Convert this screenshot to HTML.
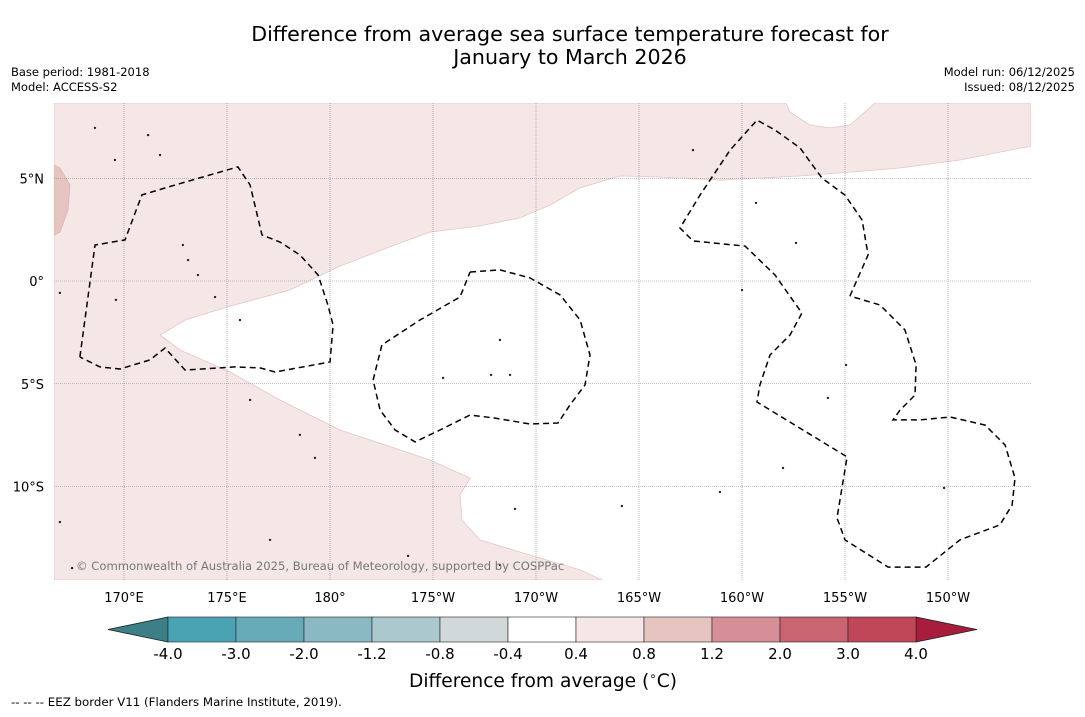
<!DOCTYPE html>
<html><head><meta charset="utf-8">
<style>
body{margin:0;background:#fff;width:1085px;height:713px;overflow:hidden;font-family:"DejaVu Sans","Liberation Sans",sans-serif}
svg text{font-family:"DejaVu Sans","Liberation Sans",sans-serif}
</style></head>
<body>
<svg id="c" width="1085" height="713" viewBox="0 0 1085 713" xmlns="http://www.w3.org/2000/svg">
<text x="570" y="41" font-size="20.6" text-anchor="middle" fill="#000">Difference from average sea surface temperature forecast for</text>
<text x="570" y="64" font-size="20.6" text-anchor="middle" fill="#000">January to March 2026</text>
<text x="11" y="76" font-size="11.5">Base period: 1981-2018</text>
<text x="11" y="91" font-size="11.5">Model: ACCESS-S2</text>
<text x="1075" y="76" font-size="11.5" text-anchor="end">Model run: 06/12/2025</text>
<text x="1075" y="91" font-size="11.5" text-anchor="end">Issued: 08/12/2025</text>
<defs><clipPath id="mc"><rect x="54" y="103" width="977" height="477"/></clipPath></defs>
<g id="map" clip-path="url(#mc)"></g>
<g id="axes"></g>
<g id="cbar"></g>
<text x="543" y="687" font-size="18.6" text-anchor="middle">Difference from average (<tspan baseline-shift="super" font-size="12">∘</tspan>C)</text>
<text x="11" y="706" font-size="11.8">--  --  -- EEZ border V11 (Flanders Marine Institute, 2019).</text>
</svg>
<script>
// ---- data ----
const lonTicks=[170,175,180,185,190,195,200,205,210];
const lonTickLabels=["170°E","175°E","180°","175°W","170°W","165°W","160°W","155°W","150°W"];
const latTicks=[5,0,-5,-10];
const latTickLabels=["5°N","0°","5°S","10°S"];
const cbLevels=["-4.0","-3.0","-2.0","-1.2","-0.8","-0.4","0.4","0.8","1.2","2.0","3.0","4.0"];
const cbColors=["#49a3b3","#67abb9","#8ab8c3","#abc9cd","#d0d8d9","#ffffff","#f4e7e6","#e6c4c0","#d68f96","#c96571","#bf4758"];
const cbExtLow="#3d7f87", cbExtHigh="#a81d3c";
const warmRegion=[[166.6,8.66],[202.14,8.66],[202.33,8.22],[203.3,7.59],[204.27,7.45],[205.24,7.59],[206.46,8.66],[214.03,8.66],[214.03,6.57],[210.58,5.89],[207.67,5.5],[205.24,5.3],[202.82,5.11],[198.93,4.91],[196.02,5.06],[194.08,5.11],[192.14,4.53],[190.68,3.7],[189.22,3.07],[187.28,2.68],[184.85,2.38],[183.4,1.85],[180.49,0.73],[178.06,-0.44],[175.15,-1.22],[172.96,-1.9],[171.75,-2.63],[172.72,-3.36],[175.15,-4.43],[177.57,-5.79],[180.49,-7.25],[183.4,-8.22],[184.85,-8.71],[186.8,-9.59],[186.31,-10.41],[186.41,-11.63],[187.28,-12.6],[190.19,-13.48],[192.14,-14.06],[193.2,-14.55],[166.6,-14.55]];
const warmerRegion=[[166.6,5.64],[166.89,5.5],[167.38,4.67],[167.28,3.45],[166.89,2.38],[166.6,2.24]];
const eezA=[[167.86,-3.7],[168.59,1.75],[170.05,2.0],[170.87,4.19],[172.48,4.67],[175.53,5.55],[176.12,4.67],[176.7,2.24],[177.57,1.9],[178.54,1.27],[179.42,0.29],[179.9,-1.17],[180.15,-2.14],[180.0,-3.94],[177.33,-4.43],[176.6,-4.23],[175.39,-4.18],[172.96,-4.33],[171.99,-3.26],[171.26,-3.84],[169.81,-4.28],[168.83,-4.18],[167.86,-3.7]];
const eezB=[[186.8,0.44],[188.25,0.54],[189.71,0.15],[191.17,-0.68],[192.14,-1.9],[192.62,-3.6],[192.38,-5.06],[191.65,-6.03],[191.07,-6.91],[189.71,-6.96],[188.01,-6.67],[186.8,-6.52],[185.34,-7.25],[184.13,-7.83],[183.16,-7.25],[182.43,-6.28],[182.09,-4.82],[182.52,-3.11],[184.37,-1.9],[186.31,-0.78],[186.8,0.44]];
const eezC=[[205.24,-0.73],[206.12,1.27],[205.83,2.97],[205.0,4.18],[203.88,5.01],[202.82,6.47],[201.6,7.35],[200.73,7.83],[199.42,6.37],[197.96,4.18],[196.99,2.58],[197.62,1.95],[200.15,1.7],[201.6,0.29],[202.91,-1.56],[202.33,-2.63],[201.36,-3.6],[200.87,-5.06],[200.73,-5.89],[205.1,-8.56],[204.61,-11.53],[205.0,-12.6],[207.09,-13.92],[208.93,-13.92],[210.58,-12.6],[212.52,-11.87],[213.11,-10.9],[213.25,-9.59],[212.77,-7.98],[211.8,-7.01],[210.1,-6.62],[208.64,-6.76],[207.33,-6.76],[207.67,-6.28],[208.4,-5.55],[208.45,-4.09],[207.91,-2.38],[206.7,-1.17],[205.24,-0.73]];
const islands=[[188.25,-2.87],[185.49,-4.72],[187.82,-4.57],[188.74,-4.57],[172.86,1.75],[173.11,1.02],[173.59,0.29],[174.42,-0.78],[175.63,-1.9],[200.68,3.8],[202.62,1.85],[201.99,-9.1],[198.93,-10.27],[188.25,-13.82],[166.89,-11.73],[167.48,-13.97],[183.79,-13.38],[171.17,7.1],[171.75,6.13],[168.59,7.45],[169.56,5.89],[176.12,-5.79],[178.54,-7.49],[179.27,-8.61],[197.62,6.37],[200.0,-0.44],[205.05,-4.09],[204.17,-5.69],[209.81,-10.07],[194.17,-10.95],[188.98,-11.09],[177.09,-12.6],[166.89,-0.58],[169.61,-0.92]];
// ---- scales ----
function X(lon){return 124+(lon-170)*20.6;}
function Y(lat){return 281-lat*20.55;}
const NS="http://www.w3.org/2000/svg";
function mk(tag,attrs,parent){const e=document.createElementNS(NS,tag);for(const k in attrs)e.setAttribute(k,attrs[k]);parent.appendChild(e);return e;}
function pts(a){return a.map(p=>X(p[0]).toFixed(1)+","+Y(p[1]).toFixed(1)).join(" ");}
const map=document.getElementById("map"),axes=document.getElementById("axes"),cb=document.getElementById("cbar");
let e=mk("polygon",{points:pts(warmRegion),fill:"#f4e7e6",stroke:"#e2c8c6","stroke-width":"0.8"},map);


e=mk("polygon",{points:pts(warmerRegion),fill:"#e6c4c0",stroke:"#dcb5b0","stroke-width":"0.8"},map);


lonTicks.forEach((l,i)=>{
 const g=mk("line",{x1:X(l),x2:X(l),y1:103,y2:580,stroke:"#888","stroke-width":"0.6","stroke-dasharray":"1,1"},map);
 
 
 const t=mk("text",{x:X(l),y:602,"font-size":"13","text-anchor":"middle"},axes);t.textContent=lonTickLabels[i];
 
 
});
latTicks.forEach((l,i)=>{
 const g=mk("line",{x1:54,x2:1031,y1:Y(l),y2:Y(l),stroke:"#888","stroke-width":"0.6","stroke-dasharray":"1,1"},map);
 
 
 const t=mk("text",{x:44,y:Y(l)+5,"font-size":"13","text-anchor":"end"},axes);t.textContent=latTickLabels[i];
 
 
});
[eezA,eezB,eezC].forEach(a=>{
 const p=mk("polyline",{points:pts(a),fill:"none",stroke:"#000","stroke-width":"1.5","stroke-dasharray":"6,4"},map);
 
 
});
islands.forEach(p=>{
 const c=mk("circle",{cx:X(p[0]),cy:Y(p[1]),r:"1.2",fill:"#222"},map);
 
 
});
e=mk("text",{x:76,y:570,"font-size":"11.6",fill:"#777"},map);e.textContent="© Commonwealth of Australia 2025, Bureau of Meteorology, supported by COSPPac";


// colorbar
const cbX0=168,cbW=68,cbY=617,cbH=25;
e=mk("polygon",{points:`${cbX0},${cbY} ${cbX0},${cbY+cbH} 108,${cbY+cbH/2}`,fill:cbExtLow,stroke:"#222","stroke-width":"0.8"},cb);


const xe=cbX0+cbW*cbColors.length;
e=mk("polygon",{points:`${xe},${cbY} ${xe},${cbY+cbH} 977,${cbY+cbH/2}`,fill:cbExtHigh,stroke:"#222","stroke-width":"0.8"},cb);


cbColors.forEach((c,i)=>{
 const r=mk("rect",{x:cbX0+i*cbW,y:cbY,width:cbW,height:cbH,fill:c,stroke:"#222","stroke-width":"0.6"},cb);
 
 
});
cbLevels.forEach((s,i)=>{
 const t=mk("text",{x:cbX0+i*cbW,y:659,"font-size":"15","text-anchor":"middle"},cb);t.textContent=s;
 
 
});
</script>
</body></html>
